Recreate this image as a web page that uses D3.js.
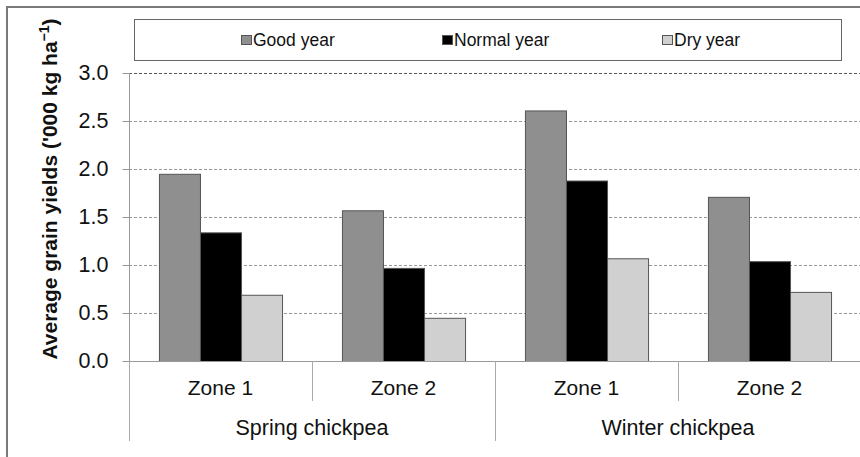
<!DOCTYPE html>
<html><head><meta charset="utf-8">
<script src="https://cdn.jsdelivr.net/npm/d3@7"></script>
<style>body{margin:0;background:#fff}svg{display:block;font-family:"Liberation Sans",Arial,sans-serif}</style>
</head><body>
<script>
const groups = ["Spring chickpea", "Winter chickpea"];
const zones = ["Zone 1", "Zone 2"];
const categories = ["Spring|Zone 1", "Spring|Zone 2", "Winter|Zone 1", "Winter|Zone 2"];
const seriesNames = ["Good year", "Normal year", "Dry year"];
const goodYear = [1.95, 1.57, 2.61, 1.71];
const normalYear = [1.34, 0.97, 1.88, 1.04];
const dryYear = [0.69, 0.45, 1.07, 0.72];
const yTicks = [0, 0.5, 1.0, 1.5, 2.0, 2.5, 3.0];
const colors = ["#8f8f8f", "#000000", "#d0d0d0"];

const W = 860, H = 457;
const svg = d3.select("body").append("svg").attr("width", W).attr("height", H);

// outer frame
svg.append("rect").attr("x", 7).attr("y", 7).attr("width", 900).attr("height", 500)
  .attr("fill", "none").attr("stroke", "#7a7a7a").attr("stroke-width", 2);

const x0 = 129, x1 = 861, yTop = 73, yBot = 361;
const x = d3.scaleBand().domain(categories).range([x0, x1]).paddingInner(0).paddingOuter(0);
const y = d3.scaleLinear().domain([0, 3]).range([yBot, yTop]);
const xs = d3.scaleBand().domain(seriesNames).range([0, x.bandwidth()]).paddingOuter(0.73).paddingInner(0);

// gridlines
svg.append("g").selectAll("line").data(yTicks.filter(d => d > 0)).join("line")
  .attr("x1", x0).attr("x2", W).attr("y1", d => Math.round(y(d)) + 0.5).attr("y2", d => Math.round(y(d)) + 0.5)
  .attr("stroke", d => d === 3 ? "#555" : "#999").attr("stroke-width", 1).attr("stroke-dasharray", "3,2");

// y axis
const yAxis = d3.axisLeft(y).tickValues(yTicks).tickFormat(d3.format(".1f")).tickSize(7).tickPadding(14);
const ya = svg.append("g").attr("transform", `translate(${x0 + 0.5},0)`).call(yAxis);
ya.select(".domain").attr("stroke", "#999").attr("d", `M0,${yTop}V${yBot}`);
ya.selectAll(".tick line").attr("stroke", "#999");
ya.selectAll(".tick text").attr("font-size", 21.5).attr("fill", "#111").attr("font-family", "Liberation Sans, Arial");

// bars
const data = [goodYear, normalYear, dryYear];
data.forEach((vals, si) => {
  svg.append("g").selectAll("rect").data(vals).join("rect")
    .attr("x", (d, i) => x(categories[i]) + xs(seriesNames[si]) + 0.5)
    .attr("y", d => y(d) + 0.5)
    .attr("width", xs.bandwidth())
    .attr("height", d => y(0) - y(d))
    .attr("fill", colors[si]).attr("stroke", "#555").attr("stroke-width", 1);
});

// zero line
svg.append("line").attr("x1", x0).attr("x2", W).attr("y1", yBot + 0.5).attr("y2", yBot + 0.5)
  .attr("stroke", "#999");

// category dividers
const divs = [
  {xv: x0, len: 80},
  {xv: x(categories[1]), len: 40},
  {xv: x(categories[2]), len: 80},
  {xv: x(categories[3]), len: 40}
];
svg.append("g").selectAll("line").data(divs).join("line")
  .attr("x1", d => Math.round(d.xv) + 0.5).attr("x2", d => Math.round(d.xv) + 0.5)
  .attr("y1", yBot).attr("y2", d => yBot + d.len).attr("stroke", "#aaa");

// zone labels
svg.append("g").selectAll("text").data(categories).join("text")
  .attr("x", d => x(d) + x.bandwidth() / 2).attr("y", 395)
  .attr("text-anchor", "middle").attr("font-size", 21).attr("fill", "#111")
  .text(d => d.split("|")[1]);

// group labels
svg.append("g").selectAll("text").data(groups).join("text")
  .attr("x", (d, i) => x(categories[i * 2]) + x.bandwidth())
  .attr("y", 435).attr("text-anchor", "middle").attr("font-size", 21.5).attr("fill", "#111")
  .text(d => d);

// y label
const yl = svg.append("text").attr("transform", `translate(57,189) rotate(-90)`)
  .attr("text-anchor", "middle").attr("font-size", 21).attr("font-weight", "bold").attr("fill", "#111");
yl.append("tspan").text("Average grain yields ('000 kg ha");
yl.append("tspan").attr("font-size", 14).attr("dy", -8).text("\u22121");
yl.append("tspan").attr("dy", 8).text(")");

// legend
svg.append("rect").attr("x", 134.5).attr("y", 19.5).attr("width", 707).attr("height", 41)
  .attr("fill", "#fff").attr("stroke", "#666").attr("stroke-width", 1);
const legX = [241, 442, 662];
const lg = svg.append("g").selectAll("g").data(seriesNames).join("g")
  .attr("transform", (d, i) => `translate(${legX[i]},0)`);
lg.append("rect").attr("x", 0.5).attr("y", 35.5).attr("width", 10).attr("height", 9)
  .attr("fill", (d, i) => colors[i]).attr("stroke", "#555");
lg.append("text").attr("x", 12).attr("y", 46).attr("font-size", 17.5).attr("fill", "#111").text(d => d);
</script>
</body></html>
